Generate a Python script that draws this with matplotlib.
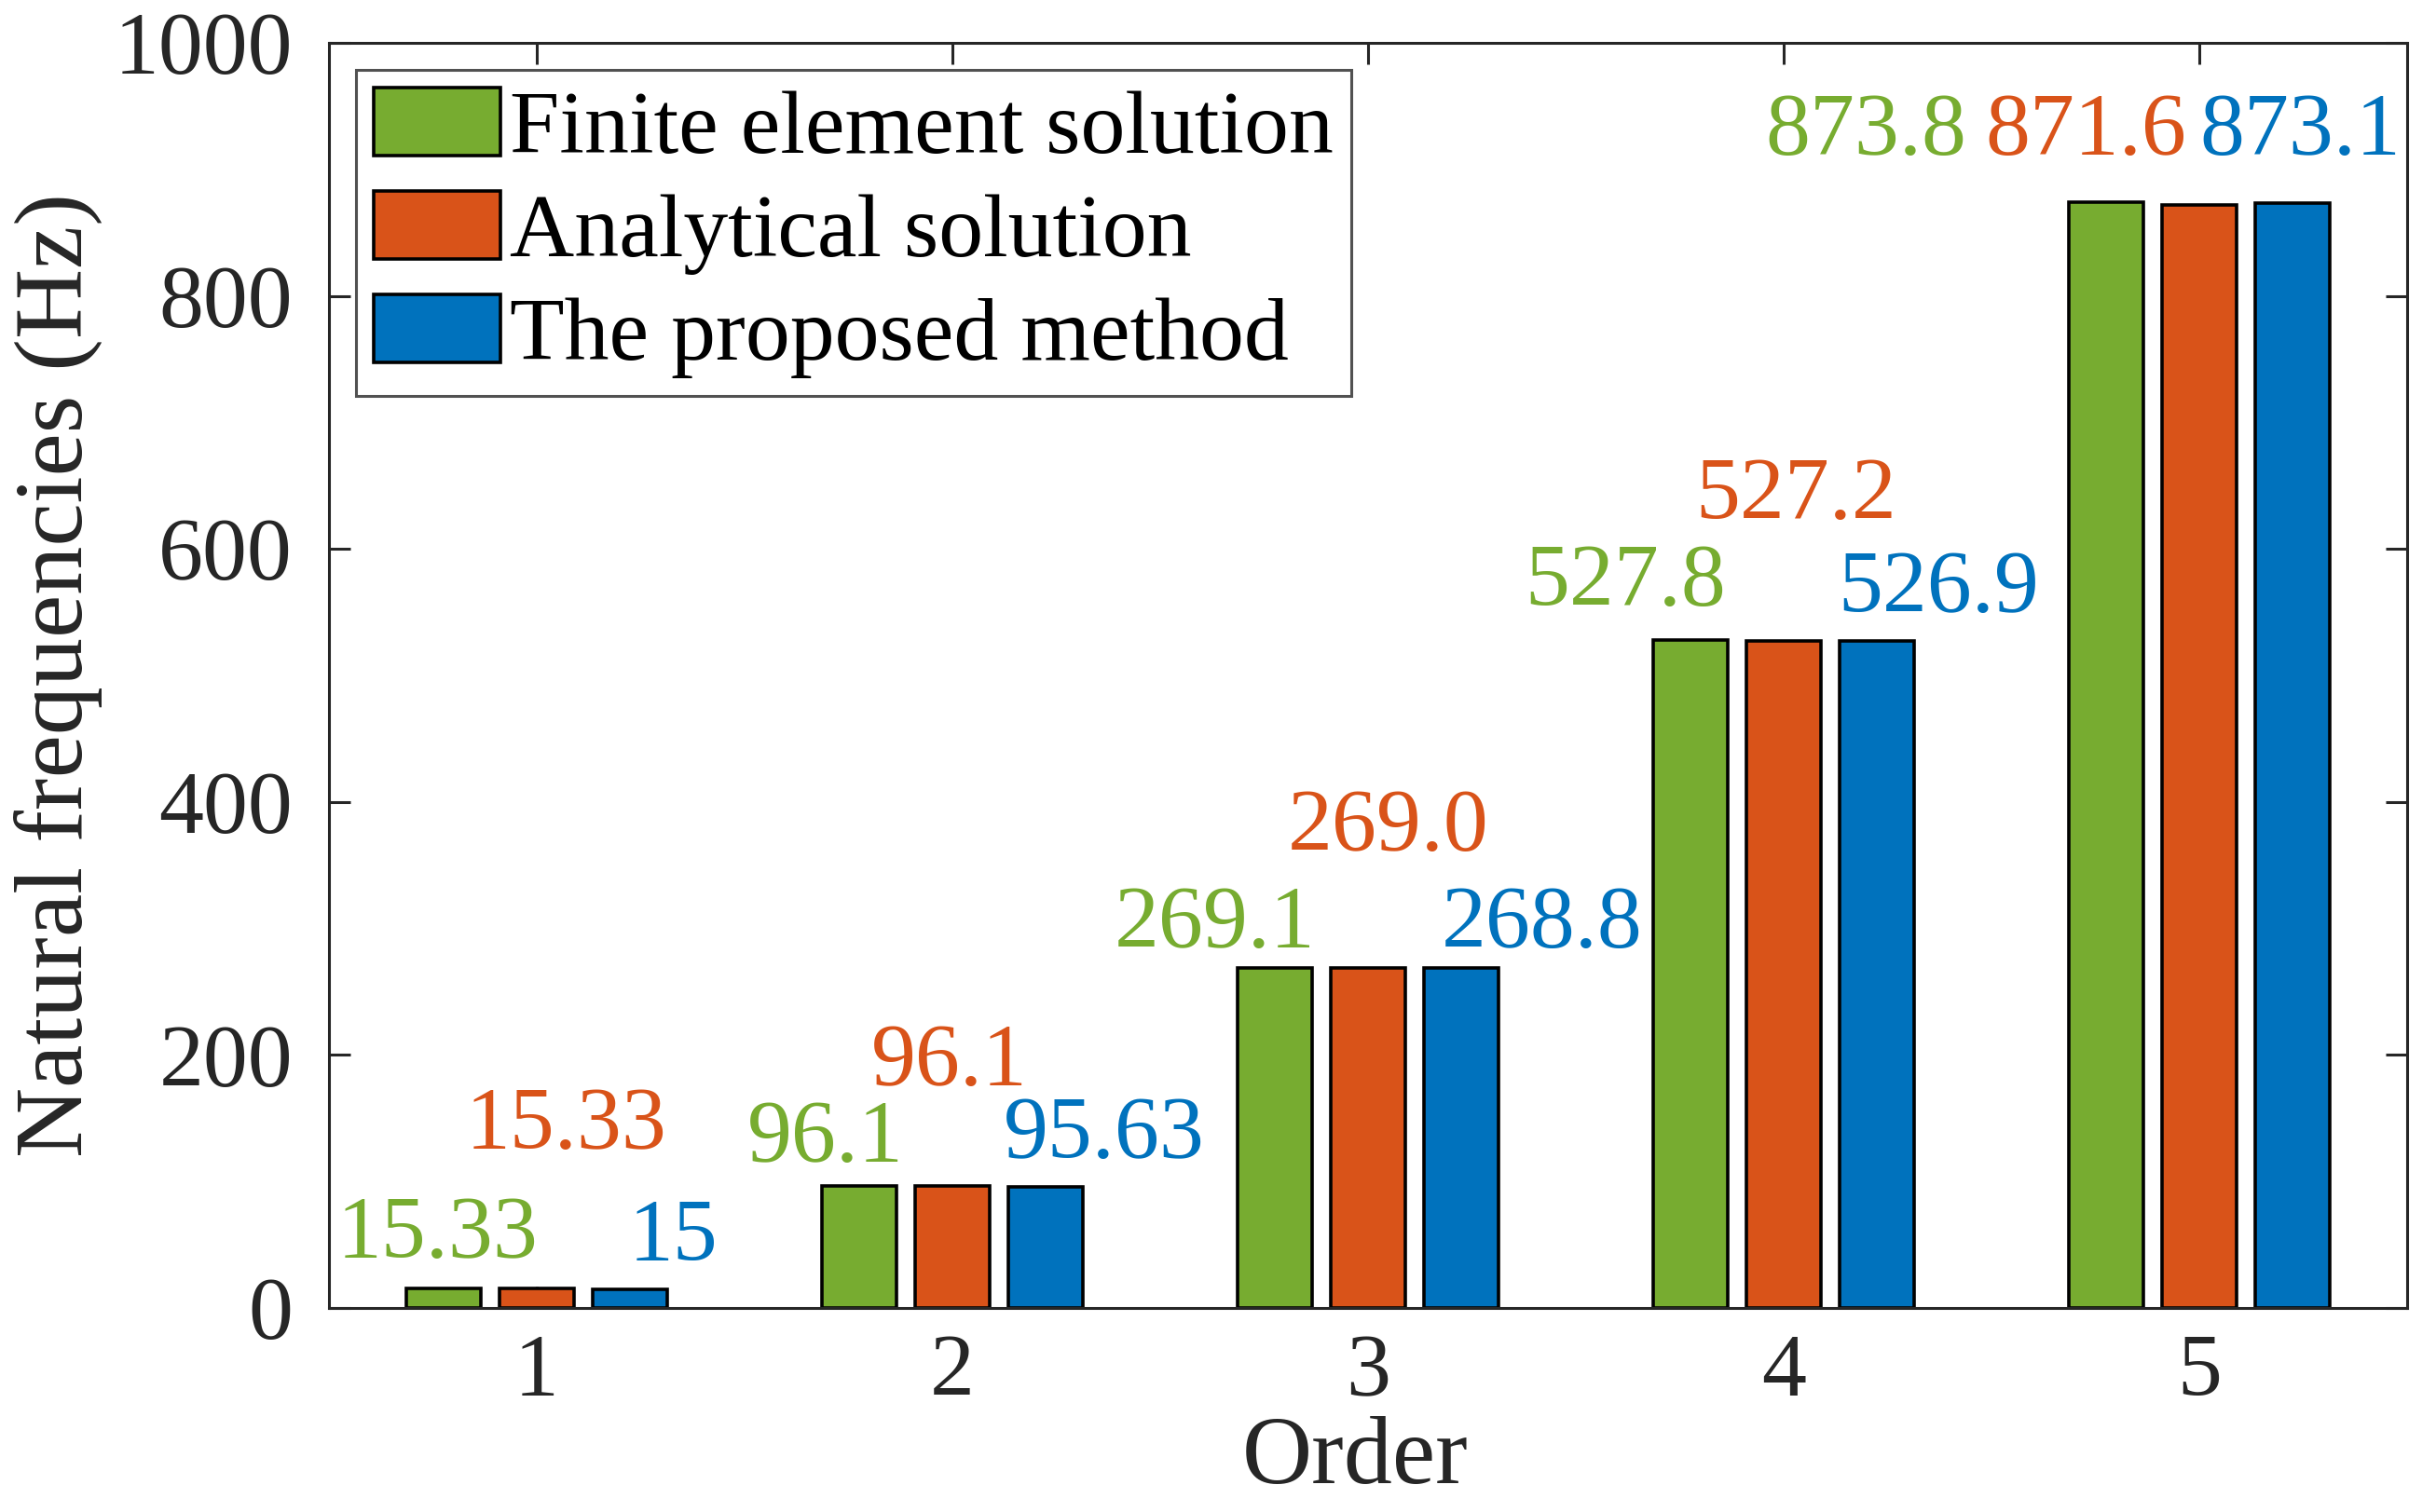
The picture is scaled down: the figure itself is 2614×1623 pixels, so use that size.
import matplotlib
matplotlib.use("Agg")
import matplotlib.pyplot as plt
import numpy as np

plt.rcParams['font.family'] = ['Liberation Serif', 'DejaVu Serif']
plt.rcParams['mathtext.fontset'] = 'stix'

orders = [1, 2, 3, 4, 5]
series_names = ["Finite element solution", "Analytical solution", "The proposed method"]
fe_vals = [15.33, 96.1, 269.1, 527.8, 873.8]
an_vals = [15.33, 96.1, 269.0, 527.2, 871.6]
pm_vals = [15, 95.63, 268.8, 526.9, 873.1]
fe_labels = ["15.33", "96.1", "269.1", "527.8", "873.8"]
an_labels = ["15.33", "96.1", "269.0", "527.2", "871.6"]
pm_labels = ["15", "95.63", "268.8", "526.9", "873.1"]
yticks = [0, 200, 400, 600, 800, 1000]

colors = ["#77AC30", "#D95319", "#0072BD"]

# label placement (data coords) for annotations
fe_lx = [0.761, 1.694, 2.631, 3.619, 4.198]
an_lx = [1.071, 1.993, 3.049, 4.030, 4.728]
pm_lx = [1.328, 2.366, 3.418, 4.373, 5.243]
fe_ly = [57, 133, 302, 572, 929]
an_ly = [143, 193, 379, 641, 929]
pm_ly = [55, 136, 302, 567, 929]

W, H, DPI = 2614, 1623, 200
fig = plt.figure(figsize=(W / DPI, H / DPI), dpi=DPI)
ax = fig.add_axes([353 / W, 1 - 1404 / H, (2583 - 353) / W, (1404 - 46) / H])

x = np.array(orders, dtype=float)
bw = 0.18
pitch = 0.224
all_vals = [fe_vals, an_vals, pm_vals]
for i, (vals, c, name) in enumerate(zip(all_vals, colors, series_names)):
    ax.bar(x + (i - 1) * pitch, vals, width=bw, color=c, edgecolor='black',
           linewidth=1.3, label=name, zorder=2)

fs = 34.5
fs_lab = 37.5
for lx, ly, labs, c in [(fe_lx, fe_ly, fe_labels, colors[0]),
                        (an_lx, an_ly, an_labels, colors[1]),
                        (pm_lx, pm_ly, pm_labels, colors[2])]:
    for xx, yy, t in zip(lx, ly, labs):
        ax.text(xx, yy, t, color=c, fontsize=fs, ha='center', va='center', zorder=3)

ax.set_xlim(0.5, 5.5)
ax.set_ylim(0, 1000)
ax.set_xticks(orders)
ax.set_xticklabels([str(o) for o in orders])
ax.set_yticks(yticks)
ax.tick_params(direction='in', length=8.3, width=1.1, labelsize=fs, colors='#262626',
               top=True, right=True, pad=10)
ax.tick_params(axis='y', pad=14)
for s in ax.spines.values():
    s.set_linewidth(1.1)
    s.set_color('#262626')

ax.set_xlabel("Order", fontsize=fs_lab, color='#262626')
ax.xaxis.set_label_coords(0.4936, -0.12)
ax.xaxis.label.set_va('center')
ax.set_ylabel("Natural frequencies (Hz)", fontsize=fs_lab, color='#262626')
ax.yaxis.set_label_coords(-0.1305, 0.5)
ax.yaxis.label.set_va('center')

leg = ax.legend(loc='upper left', fontsize=fs, frameon=True, fancybox=False,
                edgecolor='#262626', handlelength=1.42, handleheight=0.8,
                handletextpad=0.1, labelspacing=0.22, borderaxespad=0.3,
                borderpad=0.2)
leg.get_frame().set_linewidth(1.1)

fig.savefig("out.png", dpi=DPI)
